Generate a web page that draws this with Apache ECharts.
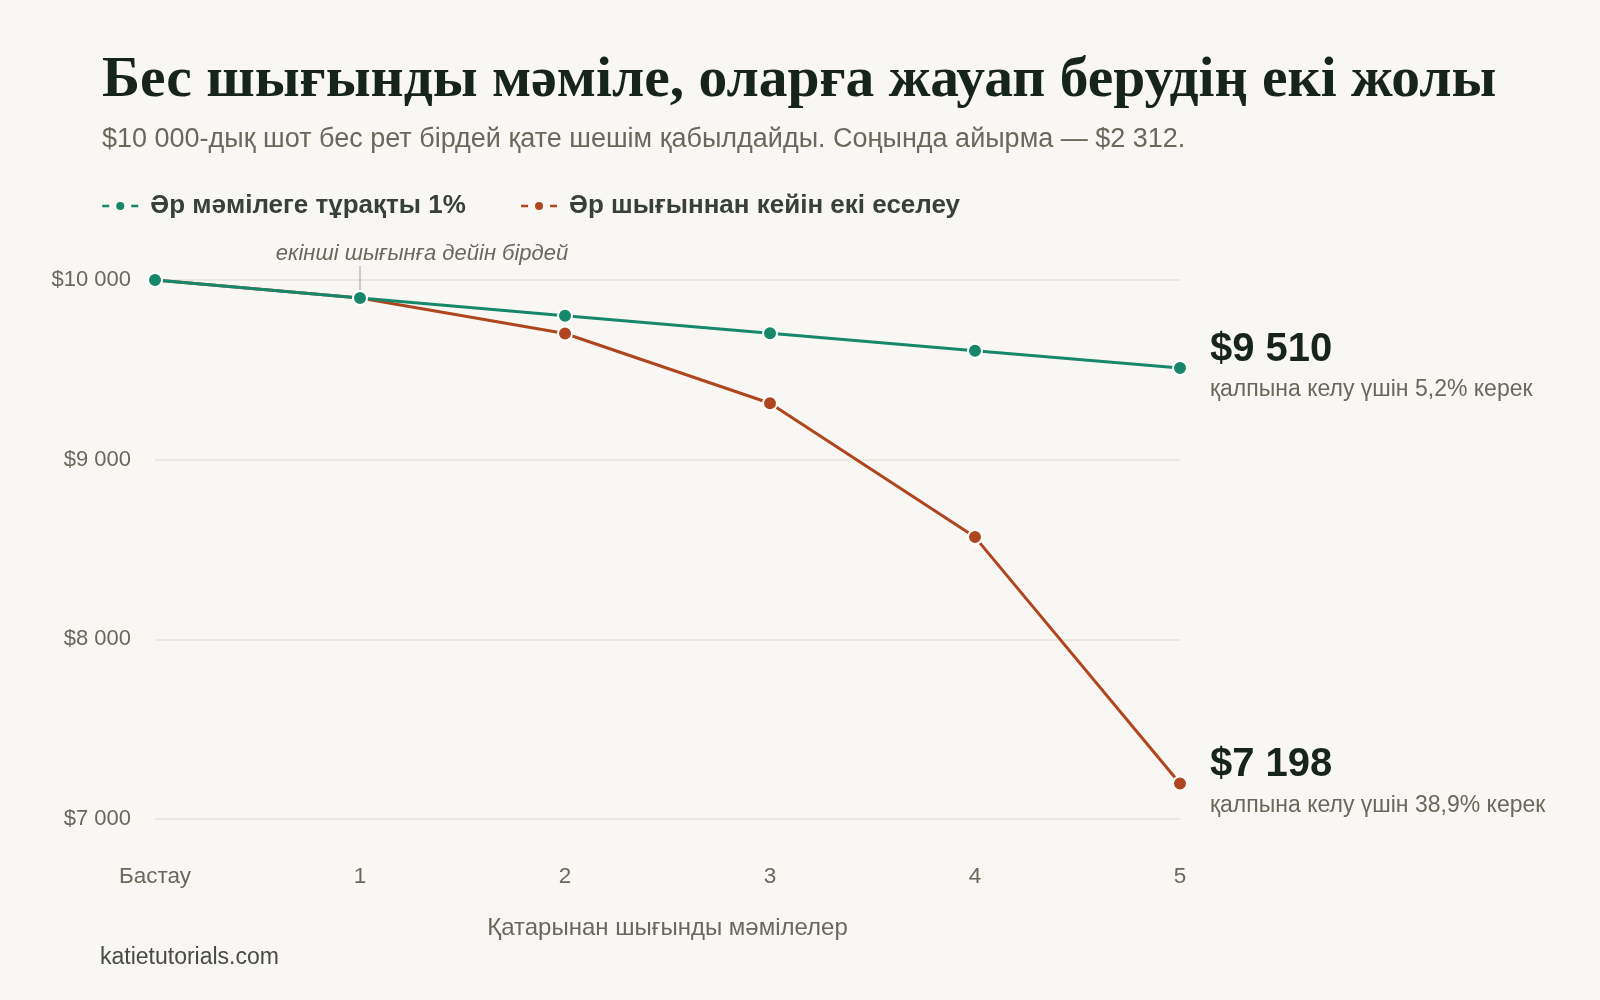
<!DOCTYPE html>
<html>
<head>
<meta charset="utf-8">
<script src="https://cdn.jsdelivr.net/npm/echarts@6/dist/echarts.min.js"></script>
<style>
html,body{margin:0;padding:0;background:#f8f7f3;}
#chart{width:1600px;height:1000px;}
</style>
</head>
<body>
<div id="chart"></div>
<script>
var categories = ['Бастау', '1', '2', '3', '4', '5'];
var constantName = 'Әр мәмілеге тұрақты 1%';
var doublingName = 'Әр шығыннан кейін екі еселеу';
var constantValues = [10000, 9900, 9801, 9703, 9606, 9510];
var doublingValues = [10000, 9900, 9702, 9314, 8569, 7198];
var yTicks = [7000, 8000, 9000, 10000];
var titleText = 'Бес шығынды мәміле, оларға жауап берудің екі жолы';
var subtitleText = '$10 000-дық шот бес рет бірдей қате шешім қабылдайды. Соңында айырма — $2 312.';
var xAxisName = 'Қатарынан шығынды мәмілелер';
var annotationText = 'екінші шығынға дейін бірдей';
var annotationIndex = 1;
var sourceText = 'katietutorials.com';

var GREEN = '#16876a';
var RED = '#b0461f';
var SANS = 'Liberation Sans, Arial, sans-serif';

function fmt(v) {
  var s = String(Math.round(v));
  return '$' + s.replace(/\B(?=(\d{3})+(?!\d))/g, ' ');
}
function recoverPct(v) {
  var start = constantValues[0];
  return ((start / v - 1) * 100).toFixed(1).replace('.', ',') + '%';
}
function endLabel(vals) {
  return {
    show: true,
    distance: 30,
    formatter: function () {
      var last = vals[vals.length - 1];
      return '{v|' + fmt(last) + '}\n{s|қалпына келу үшін ' + recoverPct(last) + ' керек}';
    },
    rich: {
      v: {fontFamily: SANS, fontSize: 40, fontWeight: 'bold', color: '#16241d', lineHeight: 44},
      s: {fontFamily: SANS, fontSize: 23, color: '#6b675c', lineHeight: 36}
    }
  };
}

var chart = echarts.init(document.getElementById('chart'));
var option = {
  backgroundColor: '#f8f7f3',
  animation: false,
  title: {
    text: titleText,
    subtext: subtitleText,
    left: 97,
    top: 47,
    itemGap: 16,
    textStyle: {fontFamily: 'Liberation Serif, serif', fontWeight: 'bold', fontSize: 57.5, color: '#16241d'},
    subtextStyle: {fontFamily: SANS, fontSize: 27, color: '#6b675c'}
  },
  legend: {
    left: 96,
    top: 188,
    itemWidth: 36,
    itemHeight: 10,
    itemGap: 54,
    textStyle: {fontFamily: SANS, fontSize: 26, fontWeight: 'bold', color: '#38403a', padding: [0, 0, 0, 7]},
    data: [
      {name: constantName, itemStyle: {color: GREEN, borderWidth: 0}, lineStyle: {type: [7, 22], width: 2.5, color: GREEN}},
      {name: doublingName, itemStyle: {color: RED, borderWidth: 0}, lineStyle: {type: [7, 22], width: 2.5, color: RED}}
    ]
  },
  grid: {left: 155, right: 420, top: 280, bottom: 181, containLabel: false},
  xAxis: {
    type: 'category',
    data: categories,
    boundaryGap: false,
    name: xAxisName,
    nameLocation: 'middle',
    nameGap: 97,
    nameTextStyle: {fontFamily: SANS, fontSize: 24, color: '#6b675c'},
    axisLine: {show: false},
    axisTick: {show: false},
    axisLabel: {margin: 46, fontFamily: SANS, fontSize: 22.5, color: '#6b675c'},
    splitLine: {show: false}
  },
  yAxis: {
    type: 'value',
    min: yTicks[0],
    max: yTicks[yTicks.length - 1],
    interval: 1000,
    axisLine: {show: false},
    axisTick: {show: false},
    axisLabel: {margin: 24, fontFamily: SANS, fontSize: 22, color: '#6b675c', formatter: fmt},
    splitLine: {lineStyle: {color: '#e5e3dd', width: 1.5}}
  },
  series: [
    {
      name: doublingName,
      type: 'line',
      data: doublingValues,
      symbol: 'circle',
      symbolSize: 14,
      lineStyle: {color: RED, width: 3},
      itemStyle: {color: RED, borderColor: '#ffffff', borderWidth: 2},
      endLabel: endLabel(doublingValues),
      z: 2
    },
    {
      name: constantName,
      type: 'line',
      data: constantValues,
      symbol: 'circle',
      symbolSize: 14,
      lineStyle: {color: GREEN, width: 3},
      itemStyle: {color: GREEN, borderColor: '#ffffff', borderWidth: 2},
      endLabel: endLabel(constantValues),
      z: 3
    }
  ]
};
chart.setOption(option);

var annPt = chart.convertToPixel({gridIndex: 0}, [annotationIndex, constantValues[annotationIndex]]);
var annTop = chart.convertToPixel({gridIndex: 0}, [annotationIndex, yTicks[yTicks.length - 1]]);
chart.setOption({
  graphic: [
    {type: 'line', shape: {x1: annPt[0], y1: annTop[1] - 14, x2: annPt[0], y2: annPt[1] - 7}, style: {stroke: '#bdbab2', lineWidth: 1.5}, z: 1},
    {type: 'text', x: annPt[0] + 62, y: annTop[1] - 26, style: {text: annotationText, fontFamily: SANS, fontStyle: 'italic', fontSize: 22, fill: '#6b675c', textAlign: 'center', textVerticalAlign: 'middle'}},
    {type: 'text', left: 100, top: 946, style: {text: sourceText, fontFamily: SANS, fontSize: 23, fill: '#4a4a44'}}
  ]
});
</script>
</body>
</html>
